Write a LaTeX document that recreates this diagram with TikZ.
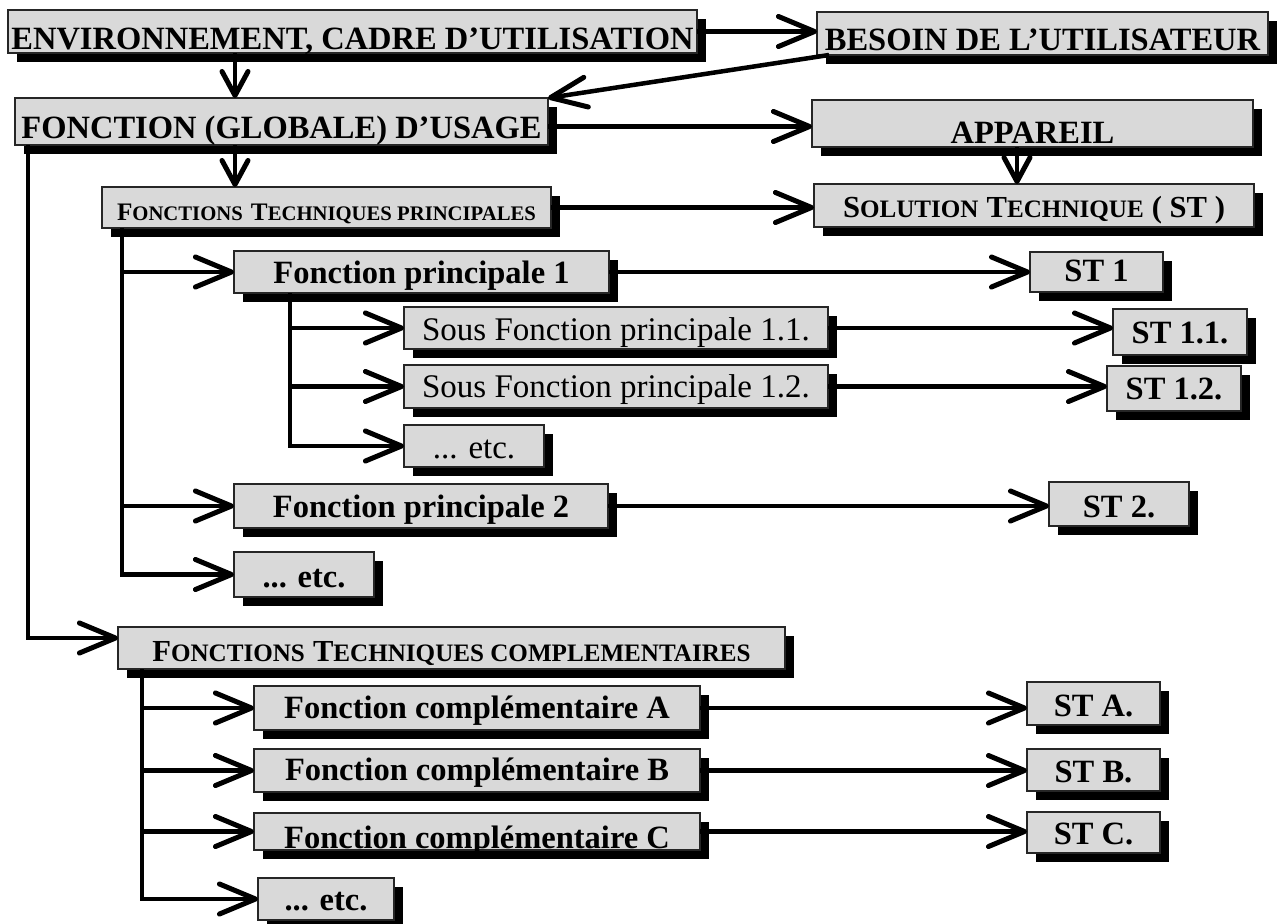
\documentclass[tikz,border=0pt]{standalone}
\usepackage{fontspec}
\setmainfont{Liberation Serif}
\usetikzlibrary{arrows.meta,shadows}

% fake small capitals: #1 capital, #2 small letters
\newcommand\scA[2]{{\fontsize{25.2}{30}\selectfont #1}{\fontsize{20.7}{25}\selectfont #2}}
\newcommand\scB[2]{{\fontsize{30.6}{36}\selectfont #1}{\fontsize{25.1}{30}\selectfont #2}}

\tikzset{
  box/.style={draw=black!85, line width=1.4pt, fill=black!15, inner sep=0pt, outer sep=0pt,
    general shadow={fill=black, shadow xshift=9pt, shadow yshift=-9pt}},
  big/.style={font=\fontsize{32.5}{36}\selectfont\bfseries},
  reg/.style={font=\fontsize{33}{36}\selectfont},
  link/.style={line width=4.5pt, -{Straight Barb[length=36pt,width=30pt,line width=5pt,round]}},
  vlink/.style={line width=4.5pt, -{Straight Barb[length=24pt,width=26pt,line width=5pt,round]}},
}

% #1 name, #2 left, #3 top, #4 right, #5 bottom, #6 baseline gap, #7 style, #8 text
\newcommand\diabox[8]{%
  \pgfmathsetmacro\bxw{#4-#2}%
  \pgfmathsetmacro\bxh{#5-#3}%
  \pgfmathsetmacro\bxt{#5-#3-#6}%
  \node[box,#7,anchor=north west,minimum width=\bxw pt,minimum height=\bxh pt,
        text height=\bxt pt,text depth=#6 pt] (#1) at (#2,#3) {#8};}

\begin{document}
\begin{tikzpicture}[x=1pt,y=-1pt]
\useasboundingbox (0,0) rectangle (1281,923);

% boxes
\diabox{env}{8}{10}{697}{53}{3}{big}{ENVIRONNEMENT, CADRE D’UTILISATION}
\diabox{besoin}{817}{12}{1268}{55}{4}{big}{BESOIN DE L’UTILISATEUR}
\diabox{fg}{15}{98}{548}{145}{7}{big}{FONCTION (GLOBALE) D’USAGE}
\diabox{app}{812}{100}{1253}{147}{4}{big}{APPAREIL}
\diabox{ftp}{102}{187}{551}{228}{8}{big}{\scA{F}{ONCTIONS} \scA{T}{ECHNIQUES PRINCIPALES}}
\diabox{sol}{814}{184}{1254}{227}{10}{big}{\scB{S}{OLUTION} \scB{T}{ECHNIQUE} \scB{( ST )}{}}
\diabox{fp1}{234}{251}{609}{293}{10}{big}{Fonction principale 1}
\diabox{st1}{1030}{252}{1163}{292}{11}{big}{ST 1}
\diabox{sf11}{404}{307}{828}{349}{9}{reg}{Sous Fonction principale 1.1.}
\diabox{st11}{1113}{309}{1247}{355}{12}{big}{ST 1.1.}
\diabox{sf12}{404}{365}{828}{408}{11}{reg}{Sous Fonction principale 1.2.}
\diabox{st12}{1107}{366}{1241}{411}{12}{big}{ST 1.2.}
\diabox{etca}{404}{425}{544}{467}{9}{reg}{... etc.}
\diabox{fp2}{234}{484}{608}{528}{11}{big}{Fonction principale 2}
\diabox{st2}{1049}{482}{1189}{526}{9}{big}{ST 2.}
\diabox{etcb}{234}{552}{374}{597}{10}{big}{... etc.}
\diabox{ftc}{118}{627}{785}{669}{8}{big}{\scB{F}{ONCTIONS} \scB{T}{ECHNIQUES COMPLEMENTAIRES}}
\diabox{fca}{254}{686}{700}{730}{12}{big}{Fonction complémentaire A}
\diabox{sta}{1027}{682}{1160}{725}{9}{big}{ST A.}
\diabox{fcb}{254}{749}{700}{792}{12}{big}{Fonction complémentaire B}
\diabox{stb}{1027}{749}{1160}{791}{9}{big}{ST B.}
\diabox{fcc}{254}{813}{700}{850}{2}{big}{Fonction complémentaire C}
\diabox{stc}{1027}{812}{1160}{853}{9}{big}{ST C.}
\diabox{etcc}{258}{878}{394}{920}{10}{big}{... etc.}

% top connectors
\draw[link] (env.east) -- (env.east -| besoin.west);
\draw[vlink] ([xshift=227pt]env.south west) -- ([xshift=220pt]fg.north west);
\draw[link] ([xshift=12pt]besoin.south west) -- (fg.north east);
\coordinate (fgout) at ([yshift=-5pt]fg.east);
\draw[link] (fgout) -- (fgout -| app.west);
\draw[vlink] ([xshift=220pt]fg.south west) -- ([xshift=133pt]ftp.north west);
\coordinate (appout) at ([xshift=205pt]app.south west);
\draw[vlink] (appout) -- (appout |- sol.north);
\draw[link] (ftp.east) -- (ftp.east -| sol.west);

% main trunk down to the complementary functions
\coordinate (tg) at ([xshift=13pt]fg.south west);
\draw[link] (tg) |- ([yshift=10pt]ftc.west);

% principal functions
\coordinate (tp) at ([xshift=20pt]ftp.south west);
\draw[link] (tp) |- (etcb.west);
\draw[link] (tp |- fp1.west) -- (fp1.west);
\draw[link] (tp |- fp2.west) -- (fp2.west);

% sub functions of function 1
\coordinate (t1) at ([xshift=56pt]fp1.south west);
\draw[link] (t1) |- (etca.west);
\draw[link] (t1 |- sf11.west) -- (sf11.west);
\draw[link] (t1 |- sf12.west) -- (sf12.west);

% complementary functions
\coordinate (tc) at ([xshift=24pt]ftc.south west);
\draw[link] (tc) |- (etcc.west);
\draw[link] (tc |- fca.west) -- (fca.west);
\draw[link] (tc |- fcb.west) -- (fcb.west);
\draw[link] (tc |- fcc.west) -- (fcc.west);

% technical solutions
\draw[link] (fp1.east) -- (fp1.east -| st1.west);
\draw[link] (sf11.east) -- (sf11.east -| st11.west);
\draw[link] (sf12.east) -- (sf12.east -| st12.west);
\draw[link] (fp2.east) -- (fp2.east -| st2.west);
\draw[link] (fca.east) -- (fca.east -| sta.west);
\draw[link] (fcb.east) -- (fcb.east -| stb.west);
\draw[link] (fcc.east) -- (fcc.east -| stc.west);
\end{tikzpicture}
\end{document}
